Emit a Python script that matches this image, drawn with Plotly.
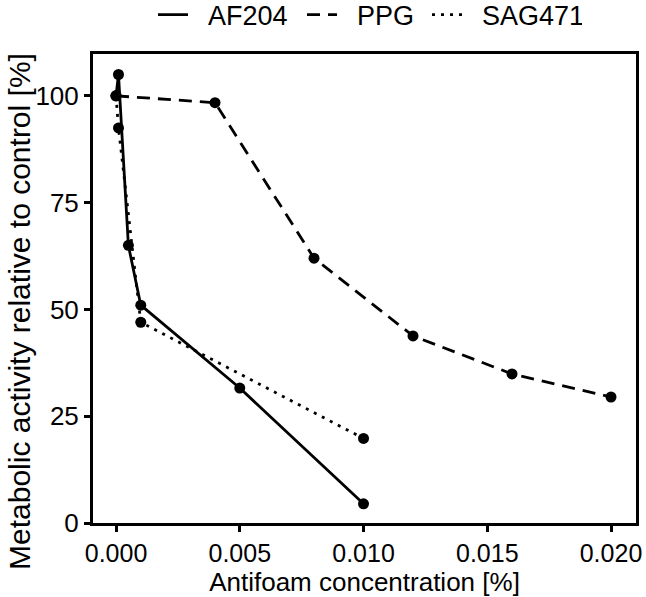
import plotly.graph_objects as go

# Data
af204_x = [0.0, 0.0001, 0.0005, 0.001, 0.005, 0.010]
af204_y = [100.0, 105.0, 65.0, 51.0, 31.6, 4.5]

ppg_x = [0.0, 0.004, 0.008, 0.012, 0.016, 0.020]
ppg_y = [100.0, 98.4, 62.0, 43.8, 34.9, 29.5]

sag_x = [0.0, 0.0001, 0.001, 0.010]
sag_y = [100.0, 92.5, 47.0, 19.8]

series_names = ["AF204", "PPG", "SAG471"]
series_dash = ["solid", "13px,8px", "3px,6px"]
legend_widths = [104, 80, 110]

x_ticks = [0.0, 0.005, 0.010, 0.015, 0.020]
x_ticklabels = ["0.000", "0.005", "0.010", "0.015", "0.020"]
y_ticks = [0, 25, 50, 75, 100]
y_ticklabels = ["0", "25", "50", "75", "100"]

FONT = "Liberation Sans, Arial, sans-serif"
LW = 2.8
marker = dict(color="black", size=11)
NB = "\u00a0\u00a0"

fig = go.Figure()
for (xs, ys), name, dash in zip([(af204_x, af204_y), (ppg_x, ppg_y), (sag_x, sag_y)],
                                series_names, series_dash):
    fig.add_trace(go.Scatter(x=xs, y=ys, name=name, mode="lines+markers", showlegend=False,
                             line=dict(color="black", width=LW, dash=dash), marker=marker))
# legend entries (line samples only, as in the reference)
for name, dash, lw in zip(series_names, series_dash, legend_widths):
    fig.add_trace(go.Scatter(x=[None], y=[None], name=NB + name, mode="lines", showlegend=True,
                             legendwidth=lw,
                             line=dict(color="black", width=LW, dash=dash)))

axis_common = dict(showgrid=False, zeroline=False, showline=True, linecolor="black",
                   linewidth=3, mirror=True, ticks="outside", tickcolor="black",
                   tickwidth=2.5, ticklen=6)

fig.update_layout(
    width=646, height=597,
    margin=dict(l=93, r=10, t=54, b=74, autoexpand=False),
    paper_bgcolor="white", plot_bgcolor="white",
    font=dict(family=FONT, size=26, color="black"),
    xaxis=dict(range=[-0.00093, 0.02101], tickvals=x_ticks, ticktext=x_ticklabels,
               tickfont=dict(family=FONT, size=25, color="black"),
               title=dict(text="Antifoam concentration [%]", font=dict(family=FONT, size=26, color="black"),
                          standoff=10),
               **axis_common),
    yaxis=dict(range=[0, 109.8], tickvals=y_ticks, ticktext=y_ticklabels,
               tickfont=dict(family=FONT, size=26, color="black"), **axis_common),
    legend=dict(orientation="h", x=0.1105, xanchor="left", y=1.1354, yanchor="top",
                font=dict(family=FONT, size=27, color="black"), bgcolor="rgba(0,0,0,0)",
                itemwidth=30, tracegroupgap=0),
    showlegend=True,
    annotations=[dict(text="Metabolic activity relative to control [%]", textangle=-90,
                      xref="paper", yref="paper", x=-0.1344, y=0.45,
                      xanchor="center", yanchor="middle", showarrow=False,
                      font=dict(family=FONT, size=30, color="black"))],
)

fig.write_html("out.html")
